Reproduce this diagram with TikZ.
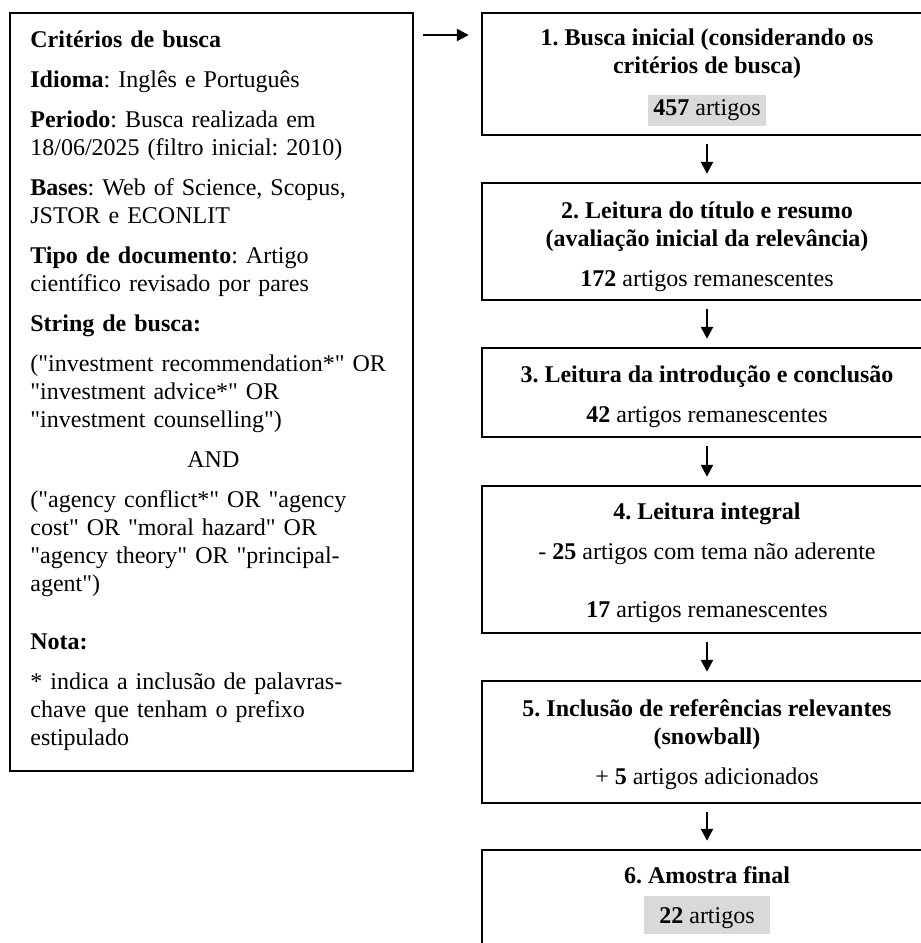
\documentclass[tikz,border=0pt]{standalone}
\usepackage{fontspec}
\setmainfont{Liberation Serif}[Ligatures=TeXOff]
\usepackage{xcolor}
\usepackage{tikz}
\usetikzlibrary{arrows.meta, positioning}
\definecolor{markgray}{RGB}{217, 217, 217}
\newcommand{\hlnum}[1]{{\setlength{\fboxsep}{2.5pt}\colorbox{markgray}{#1}}}
\newcommand{\lift}[1]{\rule{0pt}{#1pt}}
\frenchspacing

\begin{document}
\begin{tikzpicture}[
    x=0.5pt, y=-0.5pt,
    font=\fontsize{12}{14}\selectfont,
    frame/.style={draw, line width=1.2pt, inner sep=0pt},
    stagebox/.style={frame, minimum width=225pt, align=center},
    arr/.style={-{Triangle[length=6pt, width=6pt]}, line width=1.2pt}
]
    \useasboundingbox (0,0) rectangle (921,943);
    \clip (0,0) rectangle (921,943);

    % Search criteria
    \node[frame, minimum width=201.5pt, minimum height=379pt] (crit) at (211.5,392) {};
    \node[anchor=north west, inner sep=0pt, text width=195pt, align=left] (critxt) at (30,30)
        {\textbf{Critérios de busca}\\[6pt]
         \textbf{Idioma}: Inglês e Português\\[6pt]
         \textbf{Periodo}: Busca realizada em\\
         18/06/2025 (filtro inicial: 2010)\\[6pt]
         \textbf{Bases}: Web of Science, Scopus,\\
         JSTOR e ECONLIT\\[6pt]
         \textbf{Tipo de documento}: Artigo\\
         científico revisado por pares\\[6pt]
         \textbf{String de busca:}\\[6pt]
         ("investment recommendation*" OR\\
         "investment advice*" OR\\
         "investment counselling")\\[6pt]
         \makebox[183pt]{AND}\\[6pt]
         ("agency conflict*" OR "agency\\
         cost" OR "moral hazard" OR\\
         "agency theory" OR "principal-\\
         agent")\\[15pt]
         \textbf{Nota:}\\[6pt]
         * indica a inclusão de palavras-\\
         chave que tenham o prefixo\\
         estipulado};

    % Stages
    \node[stagebox, minimum height=61pt] (busca) at (707,74)
        {\lift{12}\textbf{1. Busca inicial (considerando os}\\
         \textbf{critérios de busca)}\\[7pt]
         \hlnum{\textbf{457} artigos}};
    \node[stagebox, minimum height=58.5pt] (titulo) at (707,241.5)
        {\lift{14}\textbf{2. Leitura do título e resumo}\\
         \textbf{(avaliação inicial da relevância)}\\[6pt]
         \textbf{172} artigos remanescentes};
    \node[stagebox, minimum height=44.5pt] (intro) at (707,392.5)
        {\lift{13}\textbf{3. Leitura da introdução e conclusão}\\[6pt]
         \textbf{42} artigos remanescentes};
    \node[stagebox, minimum height=73.5pt] (integral) at (707,559.5)
        {\lift{12}\textbf{4. Leitura integral}\\[6pt]
         - \textbf{25} artigos com tema não aderente\\[15pt]
         \textbf{17} artigos remanescentes};
    \node[stagebox, minimum height=61pt] (snow) at (707,742)
        {\lift{11}\textbf{5. Inclusão de referências relevantes}\\
         \textbf{(snowball)}\\[6pt]
         + \textbf{5} artigos adicionados};
    \node[stagebox, minimum height=50pt] (amostra) at (707,900)
        {\textbf{6. Amostra final}\\[6pt]
         \hlnum{\hspace{5pt}\textbf{22} artigos\hspace{5pt}\lift{11}}};

    % Connectors
    \draw[arr, shorten <=4.5pt, shorten >=6pt] (crit.east |- 0,35) -- (busca.west |- 0,35);
    \draw[arr, shorten <=4pt, shorten >=4pt] (busca) -- (titulo);
    \draw[arr, shorten <=4pt, shorten >=4pt] (titulo) -- (intro);
    \draw[arr, shorten <=4pt, shorten >=4pt] (intro) -- (integral);
    \draw[arr, shorten <=4pt, shorten >=4pt] (integral) -- (snow);
    \draw[arr, shorten <=4pt, shorten >=4pt] (snow) -- (amostra);
\end{tikzpicture}
\end{document}
